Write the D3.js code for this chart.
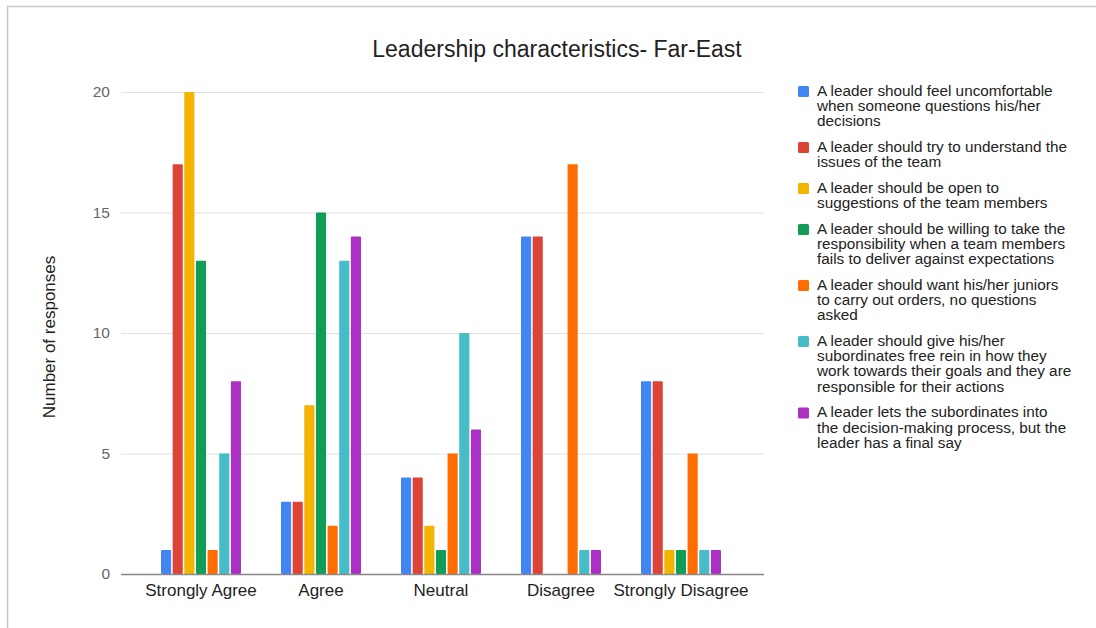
<!DOCTYPE html>
<html>
<head>
<meta charset="utf-8">
<script src="https://cdn.jsdelivr.net/npm/d3@7"></script>
<style>
  html, body { margin: 0; padding: 0; background: #fff; }
  svg { display: block; font-family: "Liberation Sans", Arial, sans-serif; }
</style>
</head>
<body>
<svg id="chart" width="1096" height="628"></svg>
<script>
// Response categories along the x axis
const categories = ["Strongly Agree", "Agree", "Neutral", "Disagree", "Strongly Disagree"];

// Statements (legend entries), with their line breaks
const seriesNames = [
  "A leader should feel uncomfortable\nwhen someone questions his/her\ndecisions",
  "A leader should try to understand the\nissues of the team",
  "A leader should be open to\nsuggestions of the team members",
  "A leader should be willing to take the\nresponsibility when a team members\nfails to deliver against expectations",
  "A leader should want his/her juniors\nto carry out orders, no questions\nasked",
  "A leader should give his/her\nsubordinates free rein in how they\nwork towards their goals and they are\nresponsible for their actions",
  "A leader lets the subordinates into\nthe decision-making process, but the\nleader has a final say"
];

// Number of responses per statement, in category order
const uncomfortable   = [1, 3, 4, 14, 8];
const understand      = [17, 3, 4, 14, 8];
const openToIdeas     = [20, 7, 2, 0, 1];
const responsibility  = [13, 15, 1, 0, 1];
const obeyOrders      = [1, 2, 5, 17, 5];
const freeRein        = [5, 13, 10, 1, 1];
const participative   = [8, 14, 6, 1, 1];
const seriesValues = [uncomfortable, understand, openToIdeas, responsibility, obeyOrders, freeRein, participative];

const yTicks = [0, 5, 10, 15, 20];
const colors = ["#4285F4", "#DB4437", "#F4B400", "#0F9D58", "#FF6D00", "#46BDC6", "#AB30C4"];

const svg = d3.select("#chart");

// outer frame lines (top and left)
svg.append("line").attr("x1", 7).attr("x2", 1096).attr("y1", 6.5).attr("y2", 6.5)
  .attr("stroke", "#c8c8c8").attr("stroke-width", 1.5);
svg.append("line").attr("x1", 7.5).attr("x2", 7.5).attr("y1", 6).attr("y2", 628)
  .attr("stroke", "#c8c8c8").attr("stroke-width", 1.5);

const plotL = 121, plotR = 764, plotT = 92, plotB = 574;

const y = d3.scaleLinear().domain([0, 20]).range([plotB, plotT]);
const x0 = d3.scaleBand().domain(categories).range([141, 741])
  .paddingInner(1 / 3).paddingOuter(1 / 6);
const x1 = d3.scaleBand().domain(d3.range(seriesNames.length))
  .range([0, x0.bandwidth()]).paddingInner(0.13).paddingOuter(0);

// title
svg.append("text")
  .attr("x", 557).attr("y", 57)
  .attr("text-anchor", "middle")
  .attr("font-size", 23).attr("fill", "#222")
  .text("Leadership characteristics- Far-East");

// gridlines + y tick labels
const yAxis = d3.axisLeft(y).tickValues(yTicks).tickSize(-(plotR - plotL)).tickPadding(11);
const gy = svg.append("g").attr("transform", `translate(${plotL},0)`).call(yAxis);
gy.select(".domain").remove();
gy.selectAll(".tick line").attr("stroke", "#e0e0e0").attr("stroke-width", 1);
gy.selectAll(".tick text").attr("font-size", 15.5).attr("fill", "#666")
  .attr("font-family", "'Liberation Sans', Arial, sans-serif");

// y axis title
svg.append("text")
  .attr("transform", `translate(55,${(plotT + plotB) / 2 + 4}) rotate(-90)`)
  .attr("text-anchor", "middle")
  .attr("font-size", 17).attr("fill", "#222")
  .text("Number of responses");

// bars
const groups = svg.append("g").selectAll("g")
  .data(categories)
  .join("g")
  .attr("transform", d => `translate(${x0(d)},0)`);

groups.selectAll("rect")
  .data((c, ci) => seriesValues.map((vals, si) => ({ si, v: vals[ci] })).filter(d => d.v > 0))
  .join("rect")
  .attr("x", d => x1(d.si))
  .attr("width", x1.bandwidth())
  .attr("y", d => y(d.v))
  .attr("height", d => y(0) - y(d.v))
  .attr("rx", 1)
  .attr("fill", d => colors[d.si]);

// x axis baseline + category labels
const xAxis = d3.axisBottom(x0).tickSize(0).tickPadding(10);
const gx = svg.append("g").attr("transform", `translate(0,${plotB})`).call(xAxis);
gx.select(".domain").remove();
gx.selectAll(".tick text").attr("font-size", 17).attr("fill", "#222")
  .attr("font-family", "'Liberation Sans', Arial, sans-serif");
svg.append("line")
  .attr("x1", plotL).attr("x2", plotR)
  .attr("y1", plotB + 0.5).attr("y2", plotB + 0.5)
  .attr("stroke", "#888").attr("stroke-width", 1.5);

// legend
const lineH = 15.2, entryGap = 10.5;
let ly = 84;
const legend = svg.append("g");
seriesNames.forEach((name, i) => {
  const lines = name.split("\n");
  const g = legend.append("g").attr("transform", `translate(0,${ly})`);
  g.append("rect").attr("x", 798).attr("y", 2).attr("width", 11).attr("height", 11)
    .attr("rx", 1.5).attr("fill", colors[i]);
  const t = g.append("text").attr("x", 817).attr("y", 12)
    .attr("font-size", 15.3).attr("fill", "#222");
  lines.forEach((ln, k) => {
    t.append("tspan").attr("x", 817).attr("dy", k === 0 ? 0 : lineH).text(ln);
  });
  ly += lines.length * lineH + entryGap;
});
</script>
</body>
</html>
